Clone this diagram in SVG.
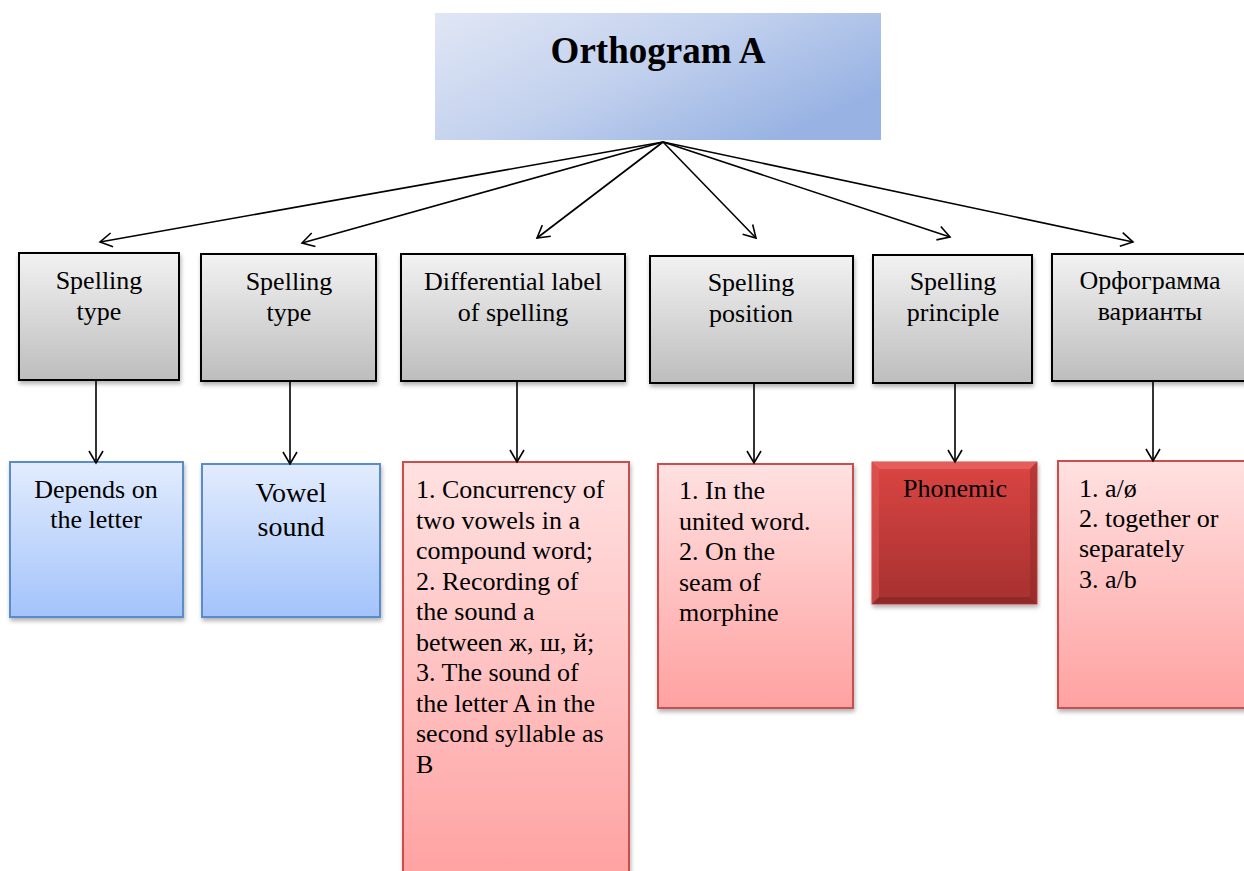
<svg xmlns="http://www.w3.org/2000/svg" width="1244" height="871" viewBox="0 0 1244 871">
<style>
  .t { font-family: "Liberation Serif", "Times New Roman", serif; font-size: 26px; fill: #000; }
  .c { text-anchor: middle; }
  .gray { fill: url(#gGray); stroke: #000; stroke-width: 2; filter: url(#sh); }
  .blue { fill: url(#gBlue); stroke: #5a8ccc; stroke-width: 2; filter: url(#sh); }
  .pink { fill: url(#gPink); stroke: #c9504f; stroke-width: 2; filter: url(#sh); }
  .conn line { stroke: #000; stroke-width: 1.6; fill: none; marker-end: url(#ah); }
</style>
<defs>
  <linearGradient id="gTitle" x1="0" y1="0" x2="1" y2="0.6">
    <stop offset="0" stop-color="#e0e6f5"/>
    <stop offset="0.5" stop-color="#c4d2ee"/>
    <stop offset="1" stop-color="#98b3e3"/>
  </linearGradient>
  <linearGradient id="gGray" x1="0" y1="0" x2="0" y2="1">
    <stop offset="0" stop-color="#f2f2f2"/>
    <stop offset="1" stop-color="#bdbdbd"/>
  </linearGradient>
  <linearGradient id="gBlue" x1="0" y1="0" x2="0" y2="1">
    <stop offset="0" stop-color="#e2ecfd"/>
    <stop offset="1" stop-color="#a3c3fb"/>
  </linearGradient>
  <linearGradient id="gPink" x1="0" y1="0" x2="0" y2="1">
    <stop offset="0" stop-color="#ffe1e1"/>
    <stop offset="1" stop-color="#ffa1a1"/>
  </linearGradient>
  <linearGradient id="gRed" x1="0" y1="0" x2="0" y2="1">
    <stop offset="0" stop-color="#db4543"/>
    <stop offset="1" stop-color="#a63030"/>
  </linearGradient>
  <filter id="sh" x="-10%" y="-10%" width="130%" height="130%">
    <feDropShadow dx="1" dy="3" stdDeviation="2" flood-color="#000" flood-opacity="0.3"/>
  </filter>
  <marker id="ah" markerWidth="16" markerHeight="16" refX="13" refY="8" orient="auto" markerUnits="userSpaceOnUse">
    <path d="M1,1 L13,8 L1,15" fill="none" stroke="#000" stroke-width="1.6"/>
  </marker>
</defs>

<g id="title">
  <rect x="435" y="13" width="446" height="127" fill="url(#gTitle)"/>
  <text class="t c" x="658" y="63" style="font-size:37px;font-weight:bold">Orthogram A</text>
</g>

<g id="n1">
  <rect class="gray" x="19" y="253" width="160" height="127"/>
  <text class="t c" x="99" y="289">Spelling</text>
  <text class="t c" x="99" y="320">type</text>
</g>
<g id="n2">
  <rect class="gray" x="201" y="254" width="175" height="127"/>
  <text class="t c" x="289" y="290">Spelling</text>
  <text class="t c" x="289" y="321">type</text>
</g>
<g id="n3">
  <rect class="gray" x="401" y="254" width="224" height="127"/>
  <text class="t c" x="513" y="290">Differential label</text>
  <text class="t c" x="513" y="321">of spelling</text>
</g>
<g id="n4">
  <rect class="gray" x="650" y="256" width="203" height="127"/>
  <text class="t c" x="751" y="291">Spelling</text>
  <text class="t c" x="751" y="322">position</text>
</g>
<g id="n5">
  <rect class="gray" x="873" y="255" width="159" height="128"/>
  <text class="t c" x="953" y="290">Spelling</text>
  <text class="t c" x="953" y="321">principle</text>
</g>
<g id="n6">
  <rect class="gray" x="1052" y="254" width="200" height="127"/>
  <text class="t c" x="1150" y="289">Орфограмма</text>
  <text class="t c" x="1150" y="320">варианты</text>
</g>

<g id="b1">
  <rect class="blue" x="10" y="462" width="173" height="155"/>
  <text class="t c" x="96" y="498">Depends on</text>
  <text class="t c" x="96" y="528">the letter</text>
</g>
<g id="b2">
  <rect class="blue" x="202" y="464" width="178" height="153"/>
  <text class="t c" x="291" y="502" style="font-size:28px">Vowel</text>
  <text class="t c" x="291" y="536" style="font-size:28px">sound</text>
</g>
<g id="b3">
  <rect class="pink" x="403" y="462" width="226" height="420"/>
  <text class="t" x="416" y="498">1. Concurrency of</text>
  <text class="t" x="416" y="528.5">two vowels in a</text>
  <text class="t" x="416" y="559">compound word;</text>
  <text class="t" x="416" y="589.5">2. Recording of</text>
  <text class="t" x="416" y="620">the sound a</text>
  <text class="t" x="416" y="650.5">between ж, ш, й;</text>
  <text class="t" x="416" y="681">3. The sound of</text>
  <text class="t" x="416" y="711.5">the letter A in the</text>
  <text class="t" x="416" y="742">second syllable as</text>
  <text class="t" x="416" y="772.5">В</text>
</g>
<g id="b4">
  <rect class="pink" x="658" y="464" width="195" height="244"/>
  <text class="t" x="679" y="499">1. In the</text>
  <text class="t" x="679" y="530">united word.</text>
  <text class="t" x="679" y="560">2. On the</text>
  <text class="t" x="679" y="591">seam of</text>
  <text class="t" x="679" y="621">morphine</text>
</g>
<g id="b5">
  <rect x="872" y="462" width="165" height="142" fill="url(#gRed)" stroke="#c44" stroke-width="1" filter="url(#sh)"/>
  <path d="M872,462 L1037,462 L1030,469 L879,469 Z" fill="#e86a68" opacity="0.7"/>
  <path d="M872,604 L1037,604 L1030,597 L879,597 Z" fill="#7a2020" opacity="0.5"/>
  <path d="M872,462 L879,469 L879,597 L872,604 Z" fill="#e05a58" opacity="0.5"/>
  <path d="M1037,462 L1030,469 L1030,597 L1037,604 Z" fill="#8a2525" opacity="0.4"/>
  <text class="t c" x="955" y="497">Phonemic</text>
</g>
<g id="b6">
  <rect class="pink" x="1058" y="461" width="195" height="247"/>
  <text class="t" x="1079" y="497">1. a/ø</text>
  <text class="t" x="1079" y="527">2. together or</text>
  <text class="t" x="1079" y="557">separately</text>
  <text class="t" x="1079" y="588">3. a/b</text>
</g>

<g id="connectors" class="conn">
  <line x1="663" y1="142" x2="100" y2="242"/>
  <line x1="663" y1="142" x2="302" y2="243"/>
  <line x1="663" y1="142" x2="537" y2="238"/>
  <line x1="663" y1="142" x2="756" y2="238"/>
  <line x1="663" y1="142" x2="950" y2="237"/>
  <line x1="663" y1="142" x2="1133" y2="242"/>
  <line x1="96" y1="381" x2="96" y2="463"/>
  <line x1="290" y1="382" x2="290" y2="464"/>
  <line x1="517" y1="382" x2="517" y2="462"/>
  <line x1="754" y1="384" x2="754" y2="463"/>
  <line x1="955" y1="384" x2="955" y2="462"/>
  <line x1="1153" y1="382" x2="1153" y2="461"/>
</g>
</svg>
